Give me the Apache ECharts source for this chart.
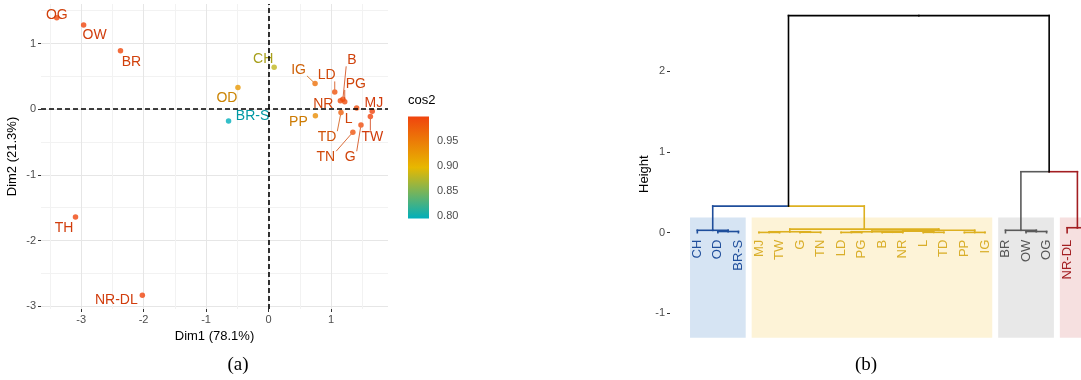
<!DOCTYPE html>
<html><head><meta charset="utf-8">
<script src="https://cdn.jsdelivr.net/npm/echarts@6/dist/echarts.min.js"></script>
<style>html,body{margin:0;padding:0;background:#fff}#c{width:1081px;height:380px}</style>
</head><body><div id="c"></div>
<script>
// ---------- (a) PCA individuals ----------
const names = ['OG','OW','BR','CH','OD','BR-S','TH','NR-DL','IG','LD','B','PG','NR','MJ','L','TD','TW','TN','G','PP'];
const dim1  = [-3.39,-2.96,-2.37,0.09,-0.49,-0.64,-3.09,-2.02,0.745,1.06,1.19,1.22,1.15,1.66,1.41,1.16,1.63,1.35,1.48,0.75];
const dim2  = [1.39,1.28,0.89,0.64,0.33,-0.18,-1.64,-2.83,0.39,0.26,0.15,0.115,0.13,-0.03,0.02,-0.05,-0.11,-0.35,-0.24,-0.10];
const cos2  = [0.995,0.997,0.995,0.88,0.925,0.795,0.997,0.998,0.96,0.985,0.993,0.99,0.99,0.999,0.99,0.975,0.998,0.985,0.99,0.935];
const xTicks = [-3,-2,-1,0,1];
const yTicks = [-3,-2,-1,0,1];
const xMinor = [-3.5,-2.5,-1.5,-0.5,0.5,1.5];
const yMinor = [-2.5,-1.5,-0.5,0.5,1.5];
const cosTicks = [0.80,0.85,0.90,0.95];

// ---------- (b) dendrogram ----------
const leaves = ['CH','OD','BR-S','MJ','TW','G','TN','LD','PG','B','NR','L','TD','PP','IG','BR','OW','OG','NR-DL','TH'];
const leafCluster = [0,0,0,1,1,1,1,1,1,1,1,1,1,1,1,2,2,2,3,3];
// hclust style: negative = leaf (1-based), positive = earlier merge (1-based)
const mergeLeft  = [-2,-1,-4,-6,3,-8,-10,6,-12,8,-14,10,5,-17,-16,-19,2,15,17];
const mergeRight = [-3, 1,-5,-7,4,-9,-11,7,-13,9,-15,11,12,-18,14,-20,13,16,18];
const mergeHeight= [0.015,0.03,0.004,0.006,0.012,0.004,0.006,0.012,0.005,0.02,0.004,0.03,0.045,0.015,0.03,0.062,0.33,0.756,2.69];
const dendTicks = [-1,0,1,2];

// ---------- styles / layout ----------
const FONT = '"Liberation Sans", Arial, Helvetica, sans-serif';
const clusterLine  = ['#1F4E9B','#DDB020','#5A5A5A','#A31E22'];
const clusterLabel = ['#1F4E9B','#D9AE2A','#555555','#A31E22'];
const clusterRect  = ['#D6E4F3','#FDF3D7','#E8E8E8','#F6E0E0'];
const gradColors = ['#00AFBB','#E7B800','#F0440E'];
const labelOffset = {
  'OG':[0,-3],'OW':[11,10.5],'BR':[11,11],'CH':[-11,-8.5],'OD':[-11,11],'BR-S':[24,-4.5],
  'TH':[-11.5,11.3],'NR-DL':[-26,5],'IG':[-16.5,-13.7],'LD':[-8,-16.7],'B':[9,-39],'PG':[11,-17.7],
  'NR':[-17,3],'MJ':[1.7,-8],'L':[-8,11],'TD':[-14,24.7],'TW':[2,20.3],'TN':[-27,25],'G':[-10.7,32.3],'PP':[-17,6.3]
};
function darken(c, f){
  const a = echarts.color.parse(c);
  return 'rgb(' + Math.round(a[0]*f) + ',' + Math.round(a[1]*f) + ',' + Math.round(a[2]*f) + ')';
}

const xr = [Math.min(...dim1), Math.max(...dim1)];
const yr = [Math.min(...dim2), Math.max(...dim2)];
const xMin = xr[0] - 0.05*(xr[1]-xr[0]), xMax = xr[1] + 0.05*(xr[1]-xr[0]);
const yMin = yr[0] - 0.05*(yr[1]-yr[0]), yMax = yr[1] + 0.05*(yr[1]-yr[0]);
const cMin = Math.min(...cos2), cMax = Math.max(...cos2);

const pts = names.map((n,i)=>[dim1[i], dim2[i], cos2[i], n]);

const mctx = document.createElement('canvas').getContext('2d');
mctx.font = '14px ' + FONT;

// dendrogram layout
const nodes = [];
function getNode(ref){
  if (ref < 0) { const i = -ref-1; return {x:i, h:0, cl:leafCluster[i]}; }
  return nodes[ref-1];
}
const segs = [];
for (let k=0;k<mergeHeight.length;k++){
  const a = getNode(mergeLeft[k]), b = getNode(mergeRight[k]);
  const h = mergeHeight[k];
  const node = {x:(a.x+b.x)/2, h:h, cl:(a.cl===b.cl)?a.cl:-1};
  [a,b].forEach(c=>{
    segs.push([c.x, h, node.x, h, c.cl]);
    segs.push([c.x, c.h, c.x, h, c.cl]);
  });
  nodes.push(node);
}
const clusters = [];
leafCluster.forEach((c,i)=>{ if(!clusters[c]) clusters[c]=[i,i,c]; else clusters[c][1]=i; });
const leafPad = 1.33, rectPad = 0.355, rectTop = 0.19, rectBottom = -1.30;

const chart = echarts.init(document.getElementById('c'));
const axisLbl = {color:'#4D4D4D', fontSize:11, fontFamily:FONT};
const noLine = {show:false, onZero:false};
chart.setOption({
  animation:false,
  grid:[
    {left:41, top:4, width:347, height:305, outerBoundsMode:'none', containLabel:false},
    {left:408, top:116.5, width:21, height:102, outerBoundsMode:'none', containLabel:false},
    {left:670, top:6.7, width:445, height:335, outerBoundsMode:'none', containLabel:false}
  ],
  xAxis:[
    {gridIndex:0, type:'value', min:xMin, max:xMax, position:'bottom',
     axisLine:noLine, axisTick:{show:true, length:3, customValues:xTicks, lineStyle:{color:'#333'}},
     axisLabel:Object.assign({customValues:xTicks, margin:5}, axisLbl),
     splitLine:{show:true, lineStyle:{color:'#E6E6E6', width:1}},
     name:'Dim1 (78.1%)', nameLocation:'middle', nameGap:20, nameTextStyle:{color:'#000', fontSize:13, fontFamily:FONT}},
    {gridIndex:0, type:'value', min:xMin, max:xMax, position:'bottom',
     axisLine:noLine, axisTick:{show:false, customValues:xMinor}, axisLabel:{show:false},
     splitLine:{show:true, lineStyle:{color:'#F2F2F2', width:1}}},
    {gridIndex:1, type:'value', min:0, max:1, show:false, axisLine:noLine},
    {gridIndex:2, type:'value', min:-leafPad, max:leaves.length-1+leafPad, show:false, axisLine:noLine}
  ],
  yAxis:[
    {gridIndex:0, type:'value', min:yMin, max:yMax, position:'left',
     axisLine:noLine, axisTick:{show:true, length:3, customValues:yTicks, lineStyle:{color:'#333'}},
     axisLabel:Object.assign({customValues:yTicks, margin:5}, axisLbl),
     splitLine:{show:true, lineStyle:{color:'#E6E6E6', width:1}},
     name:'Dim2 (21.3%)', nameLocation:'middle', nameGap:22, nameRotate:90, nameTextStyle:{color:'#000', fontSize:13, fontFamily:FONT}},
    {gridIndex:0, type:'value', min:yMin, max:yMax, position:'left',
     axisLine:noLine, axisTick:{show:false, customValues:yMinor}, axisLabel:{show:false},
     splitLine:{show:true, lineStyle:{color:'#F2F2F2', width:1}}},
    {gridIndex:1, type:'value', min:cMin, max:cMax, position:'right',
     axisLine:noLine, axisTick:{show:true, inside:true, length:4, customValues:cosTicks, lineStyle:{color:'#fff', width:1}},
     axisLabel:Object.assign({customValues:cosTicks, margin:8, formatter:v=>v.toFixed(2)}, axisLbl), splitLine:{show:false}},
    {gridIndex:1, type:'value', min:cMin, max:cMax, position:'left',
     axisLine:noLine, axisTick:{show:true, inside:true, length:4, customValues:cosTicks, lineStyle:{color:'#fff', width:1}},
     axisLabel:{show:false}, splitLine:{show:false}},
    {gridIndex:2, type:'value', min:-1.35, max:2.8, position:'left',
     axisLine:noLine, axisTick:{show:true, length:3, customValues:dendTicks, lineStyle:{color:'#333'}},
     axisLabel:Object.assign({customValues:dendTicks, margin:5}, axisLbl), splitLine:{show:false},
     name:'Height', nameLocation:'middle', nameGap:18, nameRotate:90, nameTextStyle:{color:'#000', fontSize:13, fontFamily:FONT}}
  ],
  visualMap:{type:'continuous', show:false, min:cMin, max:cMax, dimension:2, seriesIndex:[0,1],
    inRange:{color:gradColors}},
  series:[
    {type:'scatter', xAxisIndex:0, yAxisIndex:0, data:pts, symbolSize:5.5, z:3,
     markLine:{silent:true, symbol:['none','none'], label:{show:false},
       lineStyle:{color:'#000', type:[5,3], width:1.6}, data:[{xAxis:0},{yAxis:0}]}},
    {type:'custom', xAxisIndex:0, yAxisIndex:0, data:pts, z:4,
     renderItem:function(params, api){
       const i = params.dataIndex;
       const n = names[i];
       const p = api.coord([api.value(0), api.value(1)]);
       const off = labelOffset[n];
       const color = darken(api.visual('color'), 0.87);
       const cx = p[0]+off[0], cy = p[1]+off[1];
       const hw = mctx.measureText(n).width/2 + 1, hh = 6;
       const nx = Math.max(cx-hw, Math.min(cx+hw, p[0]));
       const ny = Math.max(cy-hh, Math.min(cy+hh, p[1]));
       const d = Math.hypot(nx-p[0], ny-p[1]);
       const children = [];
       if (d > 9){
         const ex = p[0] + (nx-p[0])/d*2.5, ey = p[1] + (ny-p[1])/d*2.5;
         children.push({type:'line', shape:{x1:nx, y1:ny, x2:ex, y2:ey}, style:{stroke:color, lineWidth:0.8}});
       }
       children.push({type:'text', x:cx, y:cy, style:{text:n, fill:color, font:'14px '+FONT, align:'center', verticalAlign:'middle'}});
       return {type:'group', children:children};
     }},
    {type:'custom', xAxisIndex:2, yAxisIndex:2, data:[[0,cMin,1,cMax]], silent:true,
     renderItem:function(params, api){
       const p0 = api.coord([api.value(0), api.value(3)]);
       const p1 = api.coord([api.value(2), api.value(1)]);
       return {type:'rect', shape:{x:p0[0], y:p0[1], width:p1[0]-p0[0], height:p1[1]-p0[1]}, z2:-1,
         style:{fill:new echarts.graphic.LinearGradient(0,0,0,1,[{offset:0,color:gradColors[2]},{offset:0.5,color:gradColors[1]},{offset:1,color:gradColors[0]}])}};
     }},
    {type:'custom', xAxisIndex:3, yAxisIndex:4, data:clusters, z:1, silent:true,
     renderItem:function(params, api){
       const p0 = api.coord([api.value(0)-rectPad, rectTop]);
       const p1 = api.coord([api.value(1)+rectPad, rectBottom]);
       return {type:'rect', shape:{x:p0[0], y:p0[1], width:p1[0]-p0[0], height:p1[1]-p0[1]},
         style:{fill:clusterRect[api.value(2)]}};
     }},
    {type:'custom', xAxisIndex:3, yAxisIndex:4, data:segs, z:3, silent:true,
     renderItem:function(params, api){
       const a = api.coord([api.value(0), api.value(1)]);
       const b = api.coord([api.value(2), api.value(3)]);
       const c = api.value(4);
       return {type:'line', shape:{x1:a[0], y1:a[1], x2:b[0], y2:b[1]},
         style:{stroke: c>=0 ? clusterLine[c] : '#000', lineWidth:1.6, lineCap:'square'}};
     }},
    {type:'custom', xAxisIndex:3, yAxisIndex:4, data:leaves.map((n,i)=>[i,0,leafCluster[i]]), z:4, silent:true,
     renderItem:function(params, api){
       const p = api.coord([api.value(0), api.value(1)]);
       return {type:'text', x:p[0], y:p[1]+7, rotation:Math.PI/2,
         style:{text:leaves[params.dataIndex], fill:clusterLabel[api.value(2)], font:'13px '+FONT, align:'right', verticalAlign:'middle'}};
     }}
  ],
  graphic:[
    {type:'text', x:408, y:100, style:{text:'cos2', fill:'#000', font:'13px '+FONT, align:'left', verticalAlign:'middle'}},
    {type:'text', x:238, y:365, style:{text:'(a)', fill:'#000', font:'19px "Liberation Serif", "Times New Roman", serif', align:'center', verticalAlign:'middle'}},
    {type:'text', x:866, y:365, style:{text:'(b)', fill:'#000', font:'19px "Liberation Serif", "Times New Roman", serif', align:'center', verticalAlign:'middle'}}
  ]
});
</script>
</body></html>
